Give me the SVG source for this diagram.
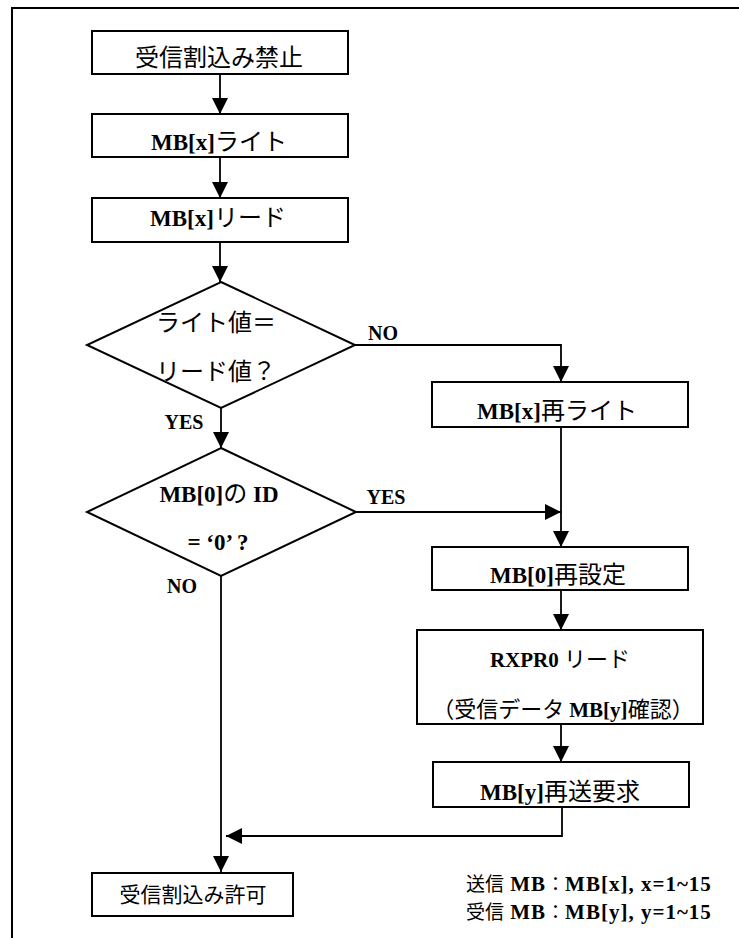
<svg xmlns="http://www.w3.org/2000/svg" width="739" height="938" viewBox="0 0 739 938">
<style>
.box{fill:#fff;stroke:#000;stroke-width:2}
.ln{fill:none;stroke:#000;stroke-width:1.8}
text{font-family:"Noto Sans CJK JP","Noto Sans",sans-serif;font-size:24px;fill:#000}
.c{text-anchor:middle}
.l{font-family:"Liberation Serif","Noto Sans CJK JP",serif;font-weight:bold;font-size:23px}
.lab{font-family:"Liberation Serif",serif;font-weight:bold;font-size:20px}
.note{font-size:19px}
.note .l{font-size:21px;letter-spacing:1px}
.s{font-size:22px}
.s .l{font-size:21px}
.b{font-size:21px}
</style>
<defs>
<marker id="ah" viewBox="0 0 16 16" refX="16" refY="8" markerWidth="16" markerHeight="16" markerUnits="userSpaceOnUse" orient="auto">
<path d="M0,0 L16,8 L0,16 z" fill="#000"/>
</marker>
</defs>
<rect x="12" y="8" width="740" height="950" fill="none" stroke="#000" stroke-width="2"/>
<g id="connectors">
<path class="ln" d="M220,74 V114" marker-end="url(#ah)"/>
<path class="ln" d="M220,157 V198" marker-end="url(#ah)"/>
<path class="ln" d="M220,242 V282" marker-end="url(#ah)"/>
<path class="ln" d="M221,408 V448" marker-end="url(#ah)"/>
<path class="ln" d="M355,345 H561 V382" marker-end="url(#ah)"/>
<path class="ln" d="M221,576 V872" marker-end="url(#ah)"/>
<path class="ln" d="M356,512 H561" marker-end="url(#ah)"/>
<path class="ln" d="M561,427 V547" marker-end="url(#ah)"/>
<path class="ln" d="M561,590 V630" marker-end="url(#ah)"/>
<path class="ln" d="M561,724 V762" marker-end="url(#ah)"/>
<path class="ln" d="M562,807 V836 H226" marker-end="url(#ah)"/>
<text class="lab" x="383" y="340" text-anchor="middle">NO</text>
<text class="lab" x="386" y="504" text-anchor="middle">YES</text>
<text class="lab" x="184" y="429" text-anchor="middle">YES</text>
<text class="lab" x="182" y="593" text-anchor="middle">NO</text>
</g>
<g id="n1">
<rect class="box" x="92" y="31" width="256" height="43"/>
<text class="c" x="219" y="66">受信割込み禁止</text>
</g>
<g id="n2">
<rect class="box" x="92" y="114" width="256" height="43"/>
<text class="c" x="219" y="150"><tspan class="l">MB[x]</tspan>ライト</text>
</g>
<g id="n3">
<rect class="box" x="92" y="198" width="256" height="44"/>
<text class="c" x="218" y="226"><tspan class="l">MB[x]</tspan>リード</text>
</g>
<g id="d1">
<polygon class="box" points="221,282 355,345 221,408 87,345"/>
<text class="c" x="216" y="331">ライト値＝</text>
<text class="c" x="216" y="380">リード値？</text>
</g>
<g id="d2">
<polygon class="box" points="221,448 356,512 221,576 87,512"/>
<text class="c" x="219" y="502"><tspan class="l">MB[0]</tspan>の<tspan class="l"> ID</tspan></text>
<text class="c l" x="218" y="550">= ‘0’ ?</text>
</g>
<g id="n4">
<rect class="box" x="432" y="382" width="256" height="45"/>
<text class="c" x="557" y="419"><tspan class="l">MB[x]</tspan>再ライト</text>
</g>
<g id="n5">
<rect class="box" x="432" y="547" width="256" height="43"/>
<text class="c" x="558" y="583"><tspan class="l">MB[0]</tspan>再設定</text>
</g>
<g id="n6">
<rect class="box" x="417" y="630" width="286" height="94"/>
<text class="c s" x="560" y="667"><tspan class="l">RXPR0 </tspan>リード</text>
<text class="c s" x="563" y="717">（受信データ <tspan class="l">MB[y]</tspan>確認）</text>
</g>
<g id="n7">
<rect class="box" x="433" y="762" width="256" height="45"/>
<text class="c" x="560" y="800"><tspan class="l">MB[y]</tspan>再送要求</text>
</g>
<g id="n8">
<rect class="box" x="92" y="873" width="201" height="43"/>
<text class="c b" x="193" y="902">受信割込み許可</text>
</g>
<g id="notes">
<text class="note" x="466" y="891">送信<tspan class="l"> MB</tspan>：<tspan class="l">MB[x], x=1~15</tspan></text>
<text class="note" x="466" y="919">受信<tspan class="l"> MB</tspan>：<tspan class="l">MB[y], y=1~15</tspan></text>
</g>
</svg>
